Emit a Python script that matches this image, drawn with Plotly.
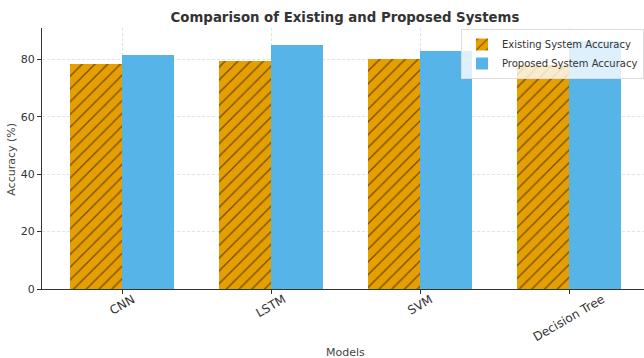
import plotly.graph_objects as go

models = ["CNN", "LSTM", "SVM", "Decision Tree"]
existing_acc = [78.4, 79.6, 80.2, 78.2]
proposed_acc = [81.6, 85.0, 83.0, 86.6]
y_ticks = [0, 20, 40, 60, 80]

FONT = "DejaVu Sans"
W, H = 644, 358
L, R, T, B = 42, 0, 28, 68.5
PW, PH = W - L - R, H - T - B
x_idx = list(range(len(models)))


def px_x(px):
    return (px - L) / PW


def px_y(py):
    return (H - B - py) / PH


fig = go.Figure()
fig.add_trace(go.Bar(
    x=x_idx, y=existing_acc, name="Existing System Accuracy",
    width=0.35, offset=-0.35,
    marker=dict(color="#E69F00", line=dict(width=0),
                pattern=dict(shape="/", size=9, solidity=0.15,
                             fgcolor="#000000", bgcolor="#E69F00", fillmode="overlay")),
))
fig.add_trace(go.Bar(
    x=x_idx, y=proposed_acc, name="Proposed System Accuracy",
    width=0.35, offset=0,
    marker=dict(color="#56B4E9", line=dict(width=0)),
))

# rotated category labels
for i, m in enumerate(models):
    fig.add_annotation(x=i, y=px_y(290), xref="x", yref="paper", text=m,
                       textangle=-30, showarrow=False, xanchor="center", yanchor="top",
                       font=dict(family=FONT, size=12, color="#333333"))

fig.add_annotation(x=px_x(345), xref="paper", y=px_y(353), yref="paper", text="Models",
                   showarrow=False, xanchor="center", yanchor="middle",
                   font=dict(family=FONT, size=11, color="#444444"))
fig.add_annotation(x=px_x(12), xref="paper", y=px_y(160), yref="paper",
                   text="Accuracy (%)", textangle=-90, showarrow=False,
                   xanchor="center", yanchor="middle",
                   font=dict(family=FONT, size=11, color="#444444"))

fig.update_layout(
    width=W, height=H,
    margin=dict(l=L, r=R, t=T, b=B),
    paper_bgcolor="white", plot_bgcolor="white",
    barmode="overlay",
    bargap=0,
    title=dict(text="<b>Comparison of Existing and Proposed Systems</b>",
               x=px_x(345), xref="paper", y=1 - 17 / H, yref="container",
               xanchor="center", yanchor="middle",
               font=dict(family=FONT, size=13.3, color="#333333")),
    font=dict(family=FONT, size=11, color="#333333"),
    legend=dict(x=1, y=px_y(29),
                xanchor="right", yanchor="top",
                bgcolor="rgba(255,255,255,0.8)", bordercolor="#dddddd", borderwidth=1,
                font=dict(family=FONT, size=10, color="#333333"),
                tracegroupgap=0, itemsizing="constant"),
    xaxis=dict(range=[-0.537, 3.503], tickvals=x_idx, ticktext=models,
               showticklabels=False, ticks="outside", ticklen=4, tickcolor="#333333",
               showgrid=True, gridcolor="#e3e3e3", griddash="3px,2px", gridwidth=1,
               showline=True, linecolor="#333333", linewidth=1, zeroline=False),
    yaxis=dict(range=[0, 90.96], tickvals=y_ticks, ticks="outside", ticklen=4,
               tickcolor="#333333", tickfont=dict(family=FONT, size=11, color="#333333"),
               showgrid=True, gridcolor="#e3e3e3", griddash="3px,2px", gridwidth=1,
               showline=True, linecolor="#333333", linewidth=1, zeroline=False),
)

fig.write_html("out.html")
